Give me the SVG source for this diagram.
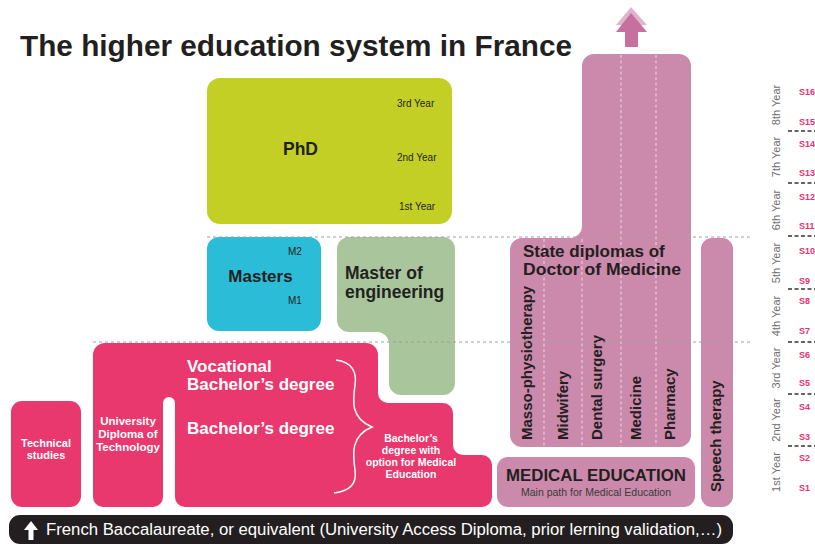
<svg xmlns="http://www.w3.org/2000/svg" width="815" height="547" viewBox="0 0 815 547">
<defs>
<style>
text{font-family:"Liberation Sans",Arial,sans-serif}
.b{font-weight:bold}
.dk{fill:#231f20}
.wh{fill:#ffffff}
.pink{fill:#e8386d}
.mauve{fill:#cb89ab}
.yr{font-size:10px;fill:#231f20}
.sc{font-size:11px;fill:#6d6e70}
.s{font-size:9px;font-weight:bold;fill:#e6336f}
.gdash{stroke:#a0a0a0;stroke-width:1;stroke-dasharray:3 3;fill:none}
.kdash{stroke:#333333;stroke-width:1.3;stroke-dasharray:4 2.5;fill:none}
.wdash{stroke:#efd6e3;stroke-width:1;stroke-dasharray:3 2.5;fill:none}
.vt{font-size:15px;font-weight:bold;fill:#231f20}
</style>
</defs>
<rect width="815" height="547" fill="#ffffff"/>
<text x="20" y="56" class="b dk" font-size="30" textLength="552" lengthAdjust="spacingAndGlyphs">The higher education system in France</text>

<g id="phd">
<rect x="207" y="78" width="245" height="146" rx="13" fill="#c3cf25"/>
<text x="300.5" y="155" class="b dk" font-size="17.5" text-anchor="middle">PhD</text>
<text x="397" y="107" class="yr">3rd  Year</text>
<text x="397" y="161" class="yr">2nd Year</text>
<text x="399" y="210" class="yr">1st Year</text>
</g>

<g id="masters">
<rect x="207" y="237" width="114" height="94" rx="12" fill="#2bbcd8"/>
<text x="260.5" y="282" class="b dk" font-size="17" text-anchor="middle">Masters</text>
<text x="288" y="255" class="yr">M2</text>
<text x="288" y="304" class="yr">M1</text>
</g>

<g id="master-engineering">
<path d="M349 237 H443 A12 12 0 0 1 455 249 V383 A12 12 0 0 1 443 395 H401 A12 12 0 0 1 389 383 V344 A12 12 0 0 0 377 332 H349 A12 12 0 0 1 337 320 V249 A12 12 0 0 1 349 237 Z" fill="#a8c59b"/>
<text x="345" y="279" class="b dk" font-size="17.5">Master of</text>
<text x="345" y="298" class="b dk" font-size="17.5">engineering</text>
</g>

<g id="technical-studies">
<rect x="11" y="401" width="70" height="106" rx="11" class="pink"/>
<text x="46" y="447" class="b wh" font-size="11" text-anchor="middle">Technical</text>
<text x="46" y="459" class="b wh" font-size="11" text-anchor="middle">studies</text>
</g>

<g id="bachelor">
<path class="pink" d="M105 343 H366 A12 12 0 0 1 378 355 V393 A10 10 0 0 0 388 403 H443 A10 10 0 0 1 453 413 V445 A10 10 0 0 0 463 455 H482 A10 10 0 0 1 492 465 V497 A10 10 0 0 1 482 507 H185 A10 10 0 0 1 175 497 V403 A6 6 0 0 0 163 403 V497 A10 10 0 0 1 153 507 H103 A10 10 0 0 1 93 497 V355 A12 12 0 0 1 105 343 Z"/>
<text x="128" y="425" class="b wh" font-size="11.5" text-anchor="middle">University</text>
<text x="128" y="438" class="b wh" font-size="11.5" text-anchor="middle">Diploma of</text>
<text x="128" y="451" class="b wh" font-size="11.5" text-anchor="middle">Technology</text>
<text x="187" y="372" class="b wh" font-size="17">Vocational</text>
<text x="187" y="390" class="b wh" font-size="17">Bachelor’s degree</text>
<text x="187" y="434" class="b wh" font-size="17">Bachelor’s degree</text>
<path d="M336 360 C352 362 357 372 355 385 C353 400 350 418 372 427 C350 436 353 455 355 470 C357 484 350 491 334 493" fill="none" stroke="#ffffff" stroke-width="1.5"/>
<text x="411" y="442" class="b wh" font-size="10.5" text-anchor="middle">Bachelor’s</text>
<text x="411" y="454" class="b wh" font-size="10.5" text-anchor="middle">degree with</text>
<text x="411" y="466" class="b wh" font-size="10.5" text-anchor="middle">option for Medical</text>
<text x="411" y="478" class="b wh" font-size="10.5" text-anchor="middle">Education</text>
</g>

<g id="state-diplomas">
<path class="mauve" d="M594 54 H679 A12 12 0 0 1 691 66 V435 A12 12 0 0 1 679 447 H522 A12 12 0 0 1 510 435 V250 A12 12 0 0 1 522 238 H570 A12 12 0 0 0 582 226 V66 A12 12 0 0 1 594 54 Z"/>
<line x1="544" y1="239" x2="544" y2="446" class="wdash"/>
<line x1="582" y1="239" x2="582" y2="446" class="wdash"/>
<line x1="621" y1="55" x2="621" y2="446" class="wdash"/>
<line x1="656" y1="55" x2="656" y2="446" class="wdash"/>
<text x="523" y="257" class="b dk" font-size="17">State diplomas of</text>
<text x="523" y="275" class="b dk" font-size="17" textLength="158" lengthAdjust="spacingAndGlyphs">Doctor of Medicine</text>
<text transform="translate(532 440) rotate(-90)" class="vt">Masso-physiotherapy</text>
<text transform="translate(568 440) rotate(-90)" class="vt">Midwifery</text>
<text transform="translate(602 440) rotate(-90)" class="vt">Dental surgery</text>
<text transform="translate(641 440) rotate(-90)" class="vt">Medicine</text>
<text transform="translate(675 440) rotate(-90)" class="vt">Pharmacy</text>
</g>

<g id="top-arrow">
<polygon points="631,7 647,25 616,25" fill="#e2b3cc"/>
<polygon points="631,13 647,32 616,32" fill="#c5709d"/>
<rect x="625" y="31" width="13" height="16" fill="#c5709d"/>
</g>

<g id="speech-therapy">
<rect x="701" y="238" width="32" height="269" rx="11" class="mauve"/>
<text transform="translate(721 492) rotate(-90)" class="vt">Speech therapy</text>
</g>

<g id="medical-education">
<rect x="497" y="457" width="198" height="50" rx="11" class="mauve"/>
<text x="506" y="481" class="b dk" font-size="17" textLength="180" lengthAdjust="spacingAndGlyphs">MEDICAL EDUCATION</text>
<text x="596" y="496" font-size="10.5" fill="#3a3a3a" text-anchor="middle">Main path for Medical Education</text>
</g>

<g id="connectors">
<line x1="207" y1="237" x2="752" y2="237" class="gdash"/>
<line x1="93" y1="342" x2="752" y2="342" class="gdash"/>
</g>

<g id="scale">
<line x1="788" y1="131" x2="815" y2="131" class="kdash"/>
<line x1="788" y1="183" x2="815" y2="183" class="kdash"/>
<line x1="788" y1="236" x2="815" y2="236" class="kdash"/>
<line x1="788" y1="289" x2="815" y2="289" class="kdash"/>
<line x1="788" y1="342" x2="815" y2="342" class="kdash"/>
<line x1="788" y1="394" x2="815" y2="394" class="kdash"/>
<line x1="788" y1="446" x2="815" y2="446" class="kdash"/>
<text transform="translate(780 105) rotate(-90)" class="sc" text-anchor="middle">8th Year</text>
<text transform="translate(780 157) rotate(-90)" class="sc" text-anchor="middle">7th Year</text>
<text transform="translate(780 210) rotate(-90)" class="sc" text-anchor="middle">6th Year</text>
<text transform="translate(780 263) rotate(-90)" class="sc" text-anchor="middle">5th Year</text>
<text transform="translate(780 316) rotate(-90)" class="sc" text-anchor="middle">4th Year</text>
<text transform="translate(780 368) rotate(-90)" class="sc" text-anchor="middle">3rd Year</text>
<text transform="translate(780 420) rotate(-90)" class="sc" text-anchor="middle">2nd Year</text>
<text transform="translate(780 472) rotate(-90)" class="sc" text-anchor="middle">1st Year</text>
<text x="799" y="95" class="s">S16</text>
<text x="799" y="125" class="s">S15</text>
<text x="799" y="147" class="s">S14</text>
<text x="799" y="176" class="s">S13</text>
<text x="799" y="200" class="s">S12</text>
<text x="799" y="229" class="s">S11</text>
<text x="799" y="254" class="s">S10</text>
<text x="799" y="284" class="s">S9</text>
<text x="799" y="304" class="s">S8</text>
<text x="799" y="334" class="s">S7</text>
<text x="799" y="358" class="s">S6</text>
<text x="799" y="386" class="s">S5</text>
<text x="799" y="410" class="s">S4</text>
<text x="799" y="440" class="s">S3</text>
<text x="799" y="461" class="s">S2</text>
<text x="799" y="491" class="s">S1</text>
</g>

<g id="baccalaureate">
<rect x="9" y="515" width="724" height="29" rx="11" fill="#231f20"/>
<polygon points="31,521 38,530 24,530" fill="#ffffff"/>
<rect x="28.5" y="529" width="5" height="11" fill="#ffffff"/>
<text x="46" y="535" class="wh" font-size="16" textLength="676" lengthAdjust="spacingAndGlyphs">French Baccalaureate, or equivalent (University Access Diploma, prior lerning validation,…)</text>
</g>
</svg>
